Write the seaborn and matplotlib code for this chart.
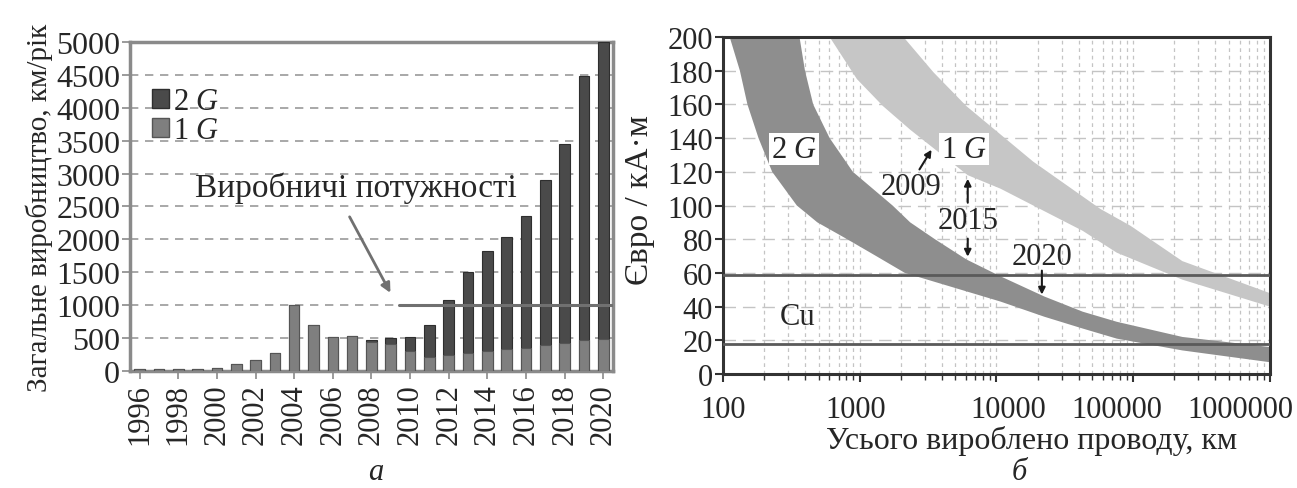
import numpy as np
import pandas as pd
import matplotlib
matplotlib.use("Agg")
import matplotlib.pyplot as plt
import matplotlib.transforms as mtransforms
from matplotlib.patches import Patch
from matplotlib.ticker import LogLocator, NullFormatter, FixedLocator
import seaborn as sns

# ---------------- data: panel (а) ----------------
years = list(range(1996, 2021))
total_km = [30, 30, 30, 30, 50, 100, 170, 270, 1000, 700, 520, 530, 470,
            500, 510, 700, 1080, 1500, 1820, 2030, 2350, 2900, 3450, 4480, 5000]
g1_km = [30, 30, 30, 30, 50, 100, 170, 270, 1000, 700, 520, 530, 440,
         410, 300, 210, 240, 270, 300, 340, 350, 400, 430, 470, 480]
capacity_km = 1000
yticks_a = list(range(0, 5001, 500))

# ---------------- data: panel (б) ----------------
g2_low_x = [112, 133, 151, 182, 229, 347, 490, 810, 1320, 2140, 10700,
            22400, 42700, 75900, 229000, 1000000]
g2_low_y = [200, 180, 160, 140, 120, 100, 90, 80, 70, 60, 43, 34, 27, 21, 14, 7]
g2_up_x = [363, 398, 457, 603, 891, 1740, 2340, 3550, 6030, 10700, 22400,
           42700, 75900, 229000, 1000000]
g2_up_y = [200, 180, 160, 140, 120, 100, 90, 80, 68, 58, 46, 37, 31, 22, 16]
g1_low_x = [603, 955, 1480, 2340, 3470, 6170, 10700, 18600, 42700, 75900,
            229000, 1000000]
g1_low_y = [200, 175, 159, 145, 134, 118, 110, 100, 85, 72, 56, 40]
g1_up_x = [2090, 3470, 6030, 18600, 57500, 95500, 229000, 1000000]
g1_up_y = [200, 179, 159, 126, 98, 88, 67, 48]
cu_levels = [59, 18]
xticks_b = [100, 1000, 10000, 100000, 1000000]
xtick_labels_b = ["100", "1000", "10000", "100000", "1000000"]
yticks_b = list(range(0, 201, 20))

# ---------------- style ----------------
sns.set_style("white")
plt.rcParams["font.family"] = ["Liberation Serif", "DejaVu Serif"]
plt.rcParams["mathtext.fontset"] = "custom"
plt.rcParams["mathtext.rm"] = "Liberation Serif"
plt.rcParams["mathtext.it"] = "Liberation Serif:italic"

FS = 22
dark = "#4a4a4a"
mid = "#7f7f7f"

fig = plt.figure(figsize=(12.97, 4.89), dpi=100)
axA = fig.add_axes([0.1002, 0.2393, 0.3724, 0.6728])
axB = fig.add_axes([0.5574, 0.2331, 0.4217, 0.6892])

# ---------------- panel (а) ----------------
df = pd.DataFrame({"year": [str(y) for y in years], "total": total_km, "g1": g1_km})
sns.barplot(data=df, x="year", y="total", color=dark, saturation=1, width=0.55,
            edgecolor="#2e2e2e", linewidth=0.8, ax=axA, zorder=3)
sns.barplot(data=df, x="year", y="g1", color=mid, saturation=1, width=0.55,
            edgecolor="#555555", linewidth=0.8, ax=axA, zorder=3)
axA.set_xlim(-0.5, len(years) - 0.5)
axA.set_ylim(0, 5000)
axA.set_yticks(yticks_a)
axA.set_yticklabels([str(v) for v in yticks_a], fontsize=23)
axA.set_xticks(range(0, len(years), 2))
axA.set_xticklabels([str(y) for y in years[::2]], rotation=90, fontsize=FS)
axA.set_xlabel("")
axA.set_ylabel("Загальне виробництво, км/рік", fontsize=21, labelpad=2)
for v in yticks_a[1:]:
    axA.axhline(v, color="#9a9a9a", lw=1.2, ls=(0, (5, 4)), zorder=1)
for s in axA.spines.values():
    s.set_color("#8a8a8a")
    s.set_linewidth(2.5)
axA.tick_params(axis="both", direction="out", length=6, width=1.2, color="#8a8a8a",
                pad=1, left=True, bottom=True)
axA.tick_params(axis="x", pad=3)

# capacity line and annotation
axA.plot([13.4, 24.5], [capacity_km, capacity_km], color="#707070", lw=2.2, zorder=4)
axA.annotate("", xy=(13.05, 1150), xytext=(10.8, 2380),
             arrowprops=dict(arrowstyle="-|>", color="#707070", lw=2.0,
                             mutation_scale=14), zorder=4)
axA.text(11.2, 2790, "Виробничі потужності", fontsize=24, ha="center", va="center")

handles = [Patch(facecolor=dark, edgecolor="#2e2e2e", label="2 $G$"),
           Patch(facecolor=mid, edgecolor="#555555", label="1 $G$")]
axA.legend(handles=handles, loc="upper left", bbox_to_anchor=(0.02, 0.90),
           frameon=False, fontsize=FS, handlelength=0.55, handleheight=0.55,
           handletextpad=0.15, labelspacing=0.0, borderaxespad=0.0)

fig.text(0.290, 0.004, "а", fontsize=FS, style="italic", ha="center", va="bottom")

# ---------------- panel (б) ----------------
axB.set_xscale("log")
axB.set_xlim(100, 1000000)
axB.set_ylim(0, 200)

axB.fill(np.r_[g2_low_x, g2_up_x[::-1]], np.r_[g2_low_y, g2_up_y[::-1]],
         color="#8e8e8e", lw=0, zorder=2)
axB.fill(np.r_[g1_low_x, g1_up_x[::-1]], np.r_[g1_low_y, g1_up_y[::-1]],
         color="#c6c6c6", lw=0, zorder=2)
for c in cu_levels:
    axB.axhline(c, color="#5a5a5a", lw=2.0, zorder=3)

axB.xaxis.set_major_locator(FixedLocator(xticks_b))
axB.xaxis.set_minor_locator(LogLocator(base=10, subs=np.arange(2, 10)))
axB.xaxis.set_minor_formatter(NullFormatter())
axB.set_xticklabels(xtick_labels_b, fontsize=FS)
axB.set_yticks(yticks_b)
axB.set_yticklabels([str(v) for v in yticks_b], fontsize=FS)
axB.grid(which="both", axis="x", color="#c4c4c4", lw=0.9, ls=(0, (3, 3)), zorder=1)
axB.grid(which="major", axis="y", color="#c4c4c4", lw=1.0, ls=(0, (9, 5)), zorder=1)
axB.tick_params(axis="both", which="major", direction="out", length=6, width=1.5,
                color="#333333", pad=1, left=True, bottom=True)
axB.tick_params(axis="x", which="major", pad=9)
axB.tick_params(axis="x", which="minor", direction="out", length=4, width=1.0,
                color="#333333", bottom=True)
for s in axB.spines.values():
    s.set_color("#333333")
    s.set_linewidth(2.2)

offsets_px = [0, -4, 12, -16, -30]
for lbl, dx in zip(axB.get_xticklabels(), offsets_px):
    lbl.set_transform(lbl.get_transform() +
                      mtransforms.ScaledTranslation(dx / 100, 0, fig.dpi_scale_trans))

axB.set_xlabel("Усього вироблено проводу, км", fontsize=23)
axB.xaxis.set_label_coords(0.565, -0.150)
axB.set_ylabel("Євро / кА·м", fontsize=24)
axB.yaxis.set_label_coords(-0.125, 0.52)

box = dict(facecolor="white", edgecolor="none", pad=1.0)
axB.text(331, 133.5, "2 $G$", fontsize=FS, ha="center", va="center", bbox=box, zorder=5)
axB.text(5780, 133.5, "1 $G$", fontsize=FS, ha="center", va="center", bbox=box, zorder=5)
axB.text(2370, 111, "2009", fontsize=FS, ha="center", va="center", zorder=5)
axB.text(6170, 91, "2015", fontsize=FS, ha="center", va="center", zorder=5)
axB.text(21500, 70, "2020", fontsize=FS, ha="center", va="center", zorder=5)
axB.text(353, 34, "Cu", fontsize=FS, ha="center", va="center", zorder=5)

arrow = dict(arrowstyle="-|>", color="#1a1a1a", lw=1.5, mutation_scale=10)
axB.annotate("", xy=(3435, 134.5), xytext=(2670, 120), arrowprops=arrow, zorder=6)
axB.annotate("", xy=(6170, 117.5), xytext=(6170, 100), arrowprops=arrow, zorder=6)
axB.annotate("", xy=(6170, 68), xytext=(6170, 82), arrowprops=arrow, zorder=6)
axB.annotate("", xy=(21500, 45.5), xytext=(21500, 63), arrowprops=arrow, zorder=6)

fig.text(0.786, 0.004, "б", fontsize=FS, style="italic", ha="center", va="bottom")

fig.savefig("out.png", dpi=100, facecolor="white")
